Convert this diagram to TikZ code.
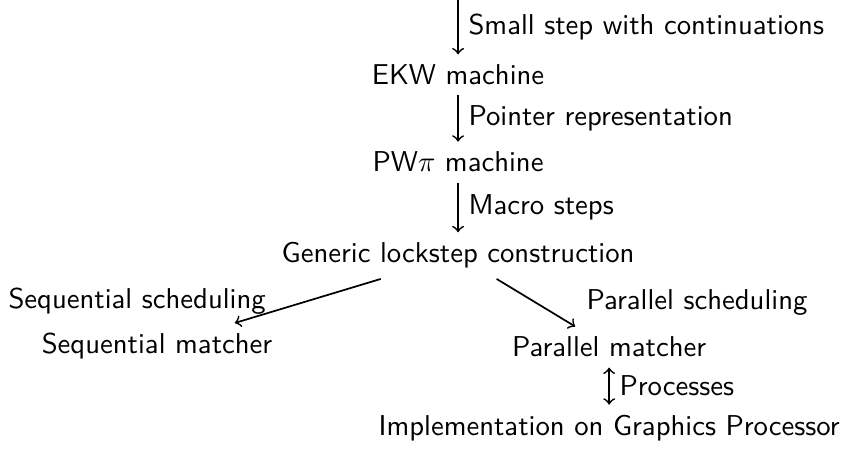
\documentclass[tikz,border=0pt]{standalone}
\usepackage{tikz}
\usetikzlibrary{positioning}

\begin{document}
\begin{tikzpicture}[
  semithick,
  stage/.style={font=\sffamily},
  lab/.style={font=\sffamily}
]
\useasboundingbox (0,0) rectangle (10.373,-5.512);
\coordinate (start) at (5.61,0);
\node[stage] (ekw) at (5.61,-0.917) {EKW machine};
\node[stage] (pwpi) at (5.61,-1.986) {PW$\pi$ machine};
\node[stage] (lockstep) at (5.61,-3.13) {Generic lockstep construction};
\node[stage] (seqmatch) at (1.923,-4.243) {Sequential matcher};
\node[stage] (parmatch) at (7.46,-4.25) {Parallel matcher};
\node[stage] (gpu) at (7.46,-5.241) {Implementation on Graphics Processor};

\draw[->] (start) -- node[lab,right]{Small step with continuations} (ekw);
\draw[->] (ekw) -- node[lab,right]{Pointer representation} (pwpi);
\draw[->] (pwpi) -- node[lab,right]{Macro steps} (lockstep);
\draw[->] (lockstep) -- node[lab,midway,left=11pt]{Sequential scheduling} (seqmatch);
\draw[->] (lockstep) -- node[lab,midway,right=14pt]{Parallel scheduling} (parmatch);
\draw[<->] (parmatch) -- node[lab,right]{Processes} (gpu);
\end{tikzpicture}
\end{document}
